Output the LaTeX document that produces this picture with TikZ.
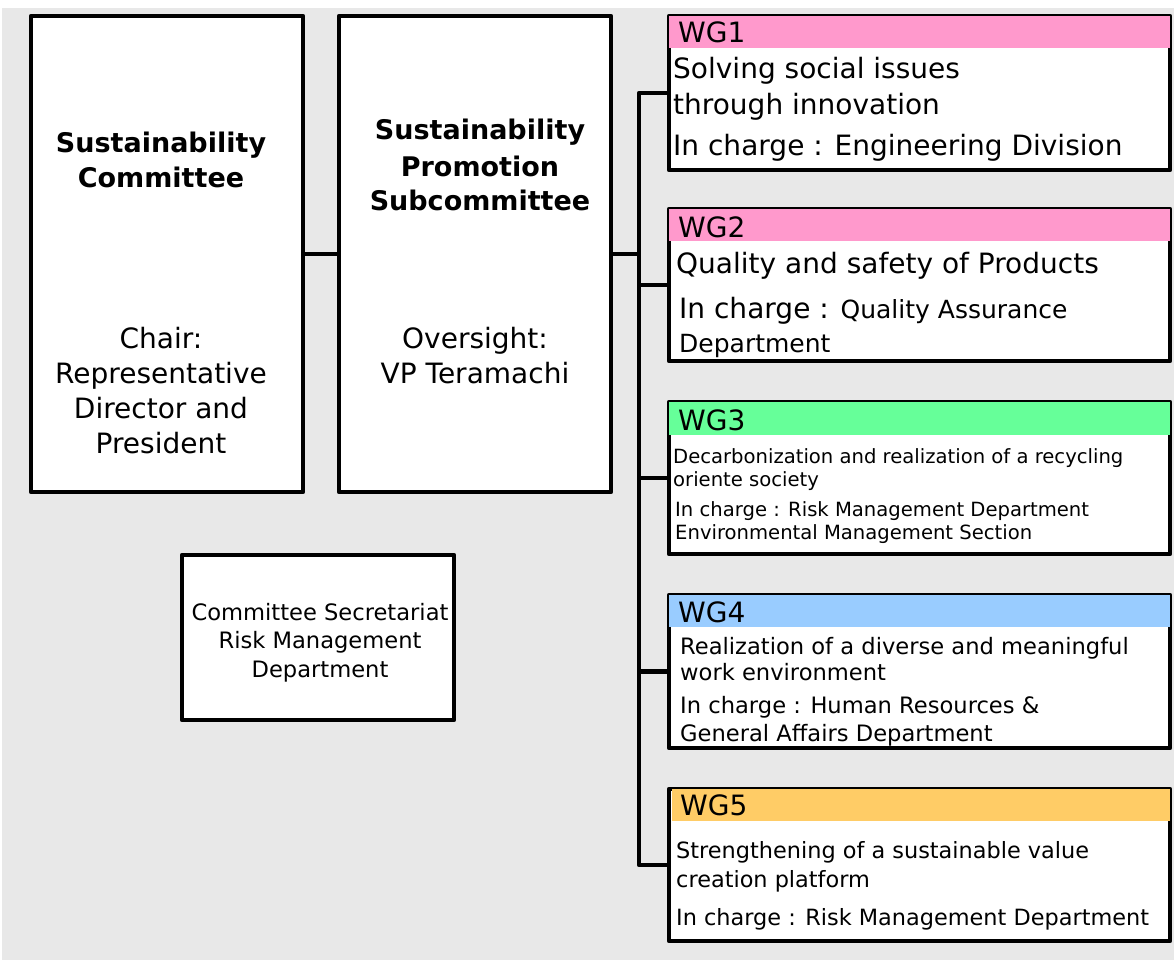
\documentclass[tikz,border=0pt]{standalone}
\usepackage{fontspec}
\setmainfont{DejaVu Sans}
\usetikzlibrary{calc}
\definecolor{bggray}{HTML}{E8E8E8}
\definecolor{wgpink}{HTML}{FF99CC}
\definecolor{wggreen}{HTML}{66FF99}
\definecolor{wgblue}{HTML}{99CCFF}
\definecolor{wgorange}{HTML}{FFCC66}
\newcommand\sz[1]{\fontsize{#1}{#1}\selectfont}
\begin{document}
\begin{tikzpicture}[x=1pt,y=-1pt,
  frame/.style={draw, line width=4.5pt, fill=white, inner sep=0pt, line join=round},
  conn/.style={draw, line width=4.5pt, line join=round},
  lt/.style={inner sep=0pt, anchor=base west},
  ct/.style={inner sep=0pt, anchor=base},
  big/.style={font=\sz{28}},
  bigb/.style={font=\sz{27}\bfseries}]

% page and panel background
\useasboundingbox (0,0) rectangle (1174,960);
\fill[white] (0,0) rectangle (1174,960);
\fill[bggray] (2,8) rectangle (1174,960);

% committee boxes
\node[frame, minimum width=272, minimum height=476] (com) at (167,254) {};
\node[frame, minimum width=272, minimum height=476] (sub) at (475,254) {};
\node[frame, minimum width=272, minimum height=165] (sec) at (318,637.5) {};

% working group boxes
\node[frame, minimum width=501, minimum height=154] (wg1) at (919.5,93) {};
\node[frame, minimum width=501, minimum height=152] (wg2) at (919.5,285) {};
\node[frame, minimum width=501, minimum height=152] (wg3) at (919.5,478) {};
\node[frame, minimum width=501, minimum height=153] (wg4) at (919.5,671.5) {};
\node[frame, minimum width=501, minimum height=152] (wg5) at (919.5,865) {};

% coloured header bands
\fill[wgpink]   ($(wg1.north west)+(2.25,2.25)$) rectangle ($(wg1.north east)+(-2.25,34)$);
\fill[wgpink]   ($(wg2.north west)+(2.25,2.25)$) rectangle ($(wg2.north east)+(-2.25,34)$);
\fill[wggreen]  ($(wg3.north west)+(2.25,2.25)$) rectangle ($(wg3.north east)+(-2.25,35)$);
\fill[wgblue]   ($(wg4.north west)+(2.25,2.25)$) rectangle ($(wg4.north east)+(-2.25,34)$);
\fill[wgorange] ($(wg5.north west)+(5,2.25)$) rectangle ($(wg5.north east)+(-2.25,34)$);

% connectors
\coordinate (bus) at (639,0);
\draw[conn] (com.east) -- (sub.east -| com.east) -- (sub.west);
\draw[conn] (sub.east) -- (sub.east -| bus);
\draw[conn] (wg1.west) -- (wg1.west -| bus) |- (wg5.west);
\draw[conn] (wg2.west) -- (wg2.west -| bus);
\draw[conn] (wg3.west) -- (wg3.west -| bus);
\draw[conn] (wg4.west) -- (wg4.west -| bus);

% Sustainability Committee
\node[ct, bigb] (comt1) at (161,153) {Sustainability};
\node[ct, bigb] (comt2) at (161,188) {Committee};
\node[ct, big] (comc1) at (161,348) {Chair:};
\node[ct, big] (comc2) at (161,383) {Representative};
\node[ct, big] (comc3) at (161,418) {Director and};
\node[ct, big] (comc4) at (161,453) {President};

% Sustainability Promotion Subcommittee
\node[ct, bigb] (subt1) at (480,140) {Sustainability};
\node[ct, bigb] (subt2) at (480,176) {Promotion};
\node[ct, bigb] (subt3) at (480,210) {Subcommittee};
\node[ct, big] (subo1) at (475,348) {Oversight:};
\node[ct, big] (subo2) at (475,383) {VP Teramachi};

% secretariat
\node[ct, font=\sz{22.6}] (sec1) at (320,620) {Committee Secretariat};
\node[ct, font=\sz{22.6}] (sec2) at (320,648) {Risk Management};
\node[ct, font=\sz{22.6}] (sec3) at (320,677) {Department};

% WG1
\node[lt, big] (wg1h) at (678,43) {WG1};
\node[lt, big] (wg1a) at (673,79) {Solving social issues};
\node[lt, big] (wg1b) at (673,115) {through innovation};
\node[lt, big] (wg1c) at (673,156) {In charge : Engineering Division};

% WG2
\node[lt, big] (wg2h) at (678,237) {WG2};
\node[lt, big] (wg2a) at (676,273) {Quality and safety of Products};
\node[lt, big] (wg2b) at (679,318) {In charge : {\sz{25}Quality Assurance}};
\node[lt, font=\sz{25}] (wg2c) at (679,352) {Department};

% WG3
\node[lt, big] (wg3h) at (678,430) {WG3};
\node[lt, font=\sz{19.6}] (wg3a) at (673,463) {Decarbonization and realization of a recycling};
\node[lt, font=\sz{19.6}] (wg3b) at (673,486) {oriente society};
\node[lt, font=\sz{19.6}] (wg3c) at (675,516) {In charge : Risk Management Department};
\node[lt, font=\sz{19.6}] (wg3d) at (675,539) {Environmental Management Section};

% WG4
\node[lt, big] (wg4h) at (678,622) {WG4};
\node[lt, font=\sz{22.6}] (wg4a) at (680,654) {Realization of a diverse and meaningful};
\node[lt, font=\sz{22.6}] (wg4b) at (680,680) {work environment};
\node[lt, font=\sz{22.6}] (wg4c) at (680,713) {In charge : Human Resources \&};
\node[lt, font=\sz{22.6}] (wg4d) at (680,741) {General Affairs Department};

% WG5
\node[lt, big] (wg5h) at (680,815) {WG5};
\node[lt, font=\sz{22.4}] (wg5a) at (676,858) {Strengthening of a sustainable value};
\node[lt, font=\sz{22.4}] (wg5b) at (676,887) {creation platform};
\node[lt, font=\sz{22.4}] (wg5c) at (676,925) {In charge : Risk Management Department};
\end{tikzpicture}
\end{document}
